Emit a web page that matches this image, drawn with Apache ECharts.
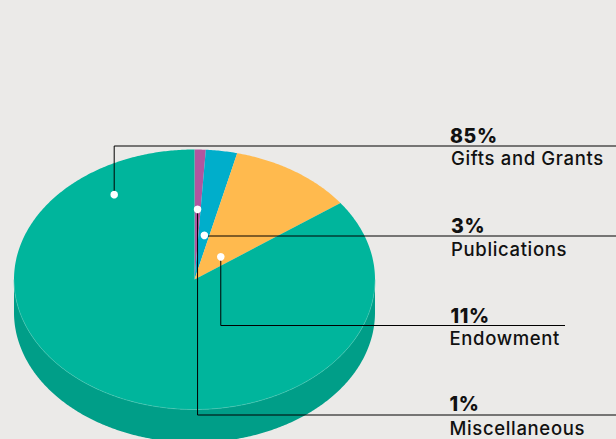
<!DOCTYPE html>
<html><head><meta charset="utf-8">
<style>html,body{margin:0;padding:0;background:#ebeae8}#c{width:616px;height:439px}
#c svg text{letter-spacing:.65px}</style>
<script src="https://cdn.jsdelivr.net/npm/echarts@6/dist/echarts.min.js"></script>
</head><body><div id="c"></div>
<script>
// Data, clockwise from 12 o'clock
const categories = ['Miscellaneous', 'Publications', 'Endowment', 'Gifts and Grants'];
const shares = [1, 2.8, 11.2, 85];
const percentLabels = ['1%', '3%', '11%', '85%'];

// Style
const sliceColors = ['#b0569f', '#00aecb', '#ffba4e', '#00b59c'];
const sideColor = '#009e88';
const rimColor = '#4cc9b6';
const FONT = 'Inter, sans-serif';
const INK = '#111';

// Disc projection
const CX = 194.5, CY = 279.5, RX = 180.5, RY = 130, DEPTH = 33;

// Leader layout per slice: where inside the slice the dot sits (fraction across the
// slice's sweep, fraction of radius), then route and text placement.
const leaders = [
  {sweep: .5,  rad: .54,  kind: 'down', elbowY: 415,   endX: 616, pctX: 449.5, pctY: 403.5, nameX: 449.5, nameY: 428},
  {sweep: .55, rad: .344, kind: 'flat', elbowY: 236,   endX: 616, pctX: 451,   pctY: 226,   nameX: 451,   nameY: 249},
  {sweep: .65, rad: .227, kind: 'down', elbowY: 325.5, endX: 565, pctX: 450.5, pctY: 315.5, nameX: 449.5, nameY: 338},
  {sweep: .888,rad: .79,  kind: 'up',   elbowY: 146,   endX: 616, pctX: 450,   pctY: 136,   nameX: 451,   nameY: 158}
];

const total = shares.reduce((a, b) => a + b, 0);
const starts = [];
shares.reduce((acc, v, i) => { starts[i] = acc; return acc + v; }, 0);
const angleOf = s => s / total * Math.PI * 2;
const pt = (a, r, dy) => [CX + RX * r * Math.sin(a), CY - RY * r * Math.cos(a) + (dy || 0)];

function arcPoints(a0, a1, dy) {
  const n = Math.max(2, Math.ceil((a1 - a0) / 0.01));
  const out = [];
  for (let k = 0; k <= n; k++) out.push(pt(a0 + (a1 - a0) * k / n, 1, dy));
  return out;
}
const seriesData = shares.map((v, i) => ({name: categories[i], value: [starts[i], v]}));

function renderSide(params, api) {
  const a0 = angleOf(api.value(0)), a1 = a0 + angleOf(api.value(1));
  const from = Math.max(a0, Math.PI / 2), to = Math.min(a1, Math.PI * 1.5);
  if (to <= from) return null;
  const points = arcPoints(from, to, 0).concat(arcPoints(from, to, DEPTH).reverse());
  return {type: 'polygon', shape: {points}, style: {fill: sideColor}};
}
function renderTop(params, api) {
  const a0 = angleOf(api.value(0)), a1 = a0 + angleOf(api.value(1));
  const points = [[CX, CY]].concat(arcPoints(a0, a1, 0));
  return {type: 'polygon', shape: {points}, style: {fill: sliceColors[params.dataIndex]}};
}
function renderRim(params, api) {
  const a0 = angleOf(api.value(0)), a1 = a0 + angleOf(api.value(1));
  const from = Math.max(a0, Math.PI / 2), to = Math.min(a1, Math.PI * 1.5);
  if (to <= from) return null;
  return {type: 'polyline', shape: {points: arcPoints(from, to, 0)}, style: {fill: 'none', stroke: rimColor, lineWidth: .6}};
}
function renderLeader(params, api) {
  const i = params.dataIndex, L = leaders[i];
  const a0 = angleOf(api.value(0)), sw = angleOf(api.value(1));
  const d = pt(a0 + sw * L.sweep, L.rad);
  const pts = L.kind === 'flat' ? [[d[0], L.elbowY], [L.endX, L.elbowY]]
    : [d, [d[0], L.elbowY], [L.endX, L.elbowY]];
  return {type: 'group', children: [
    {type: 'polyline', shape: {points: pts}, style: {fill: 'none', stroke: '#000', lineWidth: 1}},
    {type: 'circle', shape: {cx: d[0], cy: d[1], r: 3.8}, style: {fill: '#fff'}},
    {type: 'text', style: {x: L.pctX, y: L.pctY, text: percentLabels[i], fill: INK, font: '800 19.5px ' + FONT, verticalAlign: 'middle'}},
    {type: 'text', style: {x: L.nameX, y: L.nameY, text: categories[i], fill: INK, font: '500 18.5px ' + FONT, verticalAlign: 'middle'}}
  ]};
}
const base = {type: 'custom', coordinateSystem: 'none', data: seriesData, animation: false, silent: true, clip: false};
const chart = echarts.init(document.getElementById('c'), null, {width: 616, height: 439, renderer: 'svg'});
chart.setOption({
  backgroundColor: '#ebeae8',
  animation: false,
  tooltip: {show: false},
  series: [
    Object.assign({}, base, {name: 'side', z: 1, renderItem: renderSide}),
    Object.assign({}, base, {name: 'top', z: 2, renderItem: renderTop}),
    Object.assign({}, base, {name: 'rim', z: 3, renderItem: renderRim}),
    Object.assign({}, base, {name: 'leaders', z: 4, renderItem: renderLeader})
  ]
});
</script></body></html>
